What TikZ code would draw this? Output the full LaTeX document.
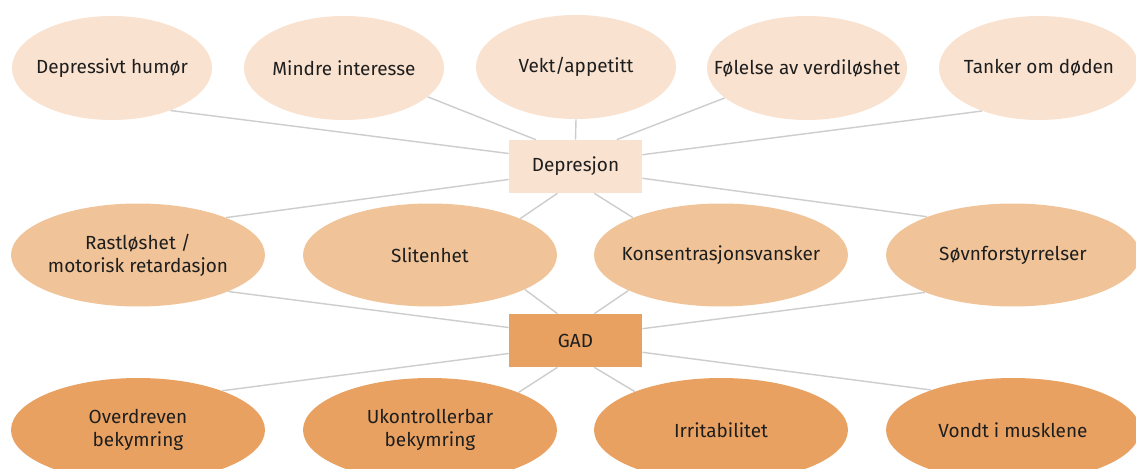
\documentclass[tikz,border=0pt]{standalone}
\usepackage{fontspec}
\setmainfont{Fira Sans}
\usetikzlibrary{shapes.geometric}

\definecolor{lysfersken}{RGB}{249,226,207}
\definecolor{fersken}{RGB}{240,196,152}
\definecolor{oransje}{RGB}{232,161,97}
\definecolor{strek}{RGB}{205,205,205}
\definecolor{tekst}{RGB}{30,30,30}

\tikzset{
  sym/.style={ellipse, inner xsep=-0.8cm, inner ysep=0pt, text=tekst, align=center,
    font=\fontsize{10.8}{13.2}\selectfont},
  toppsym/.style={sym, fill=lysfersken, minimum width=4cm, minimum height=2.08cm},
  midtsym/.style={sym, fill=fersken, minimum width=5.08cm, minimum height=2.06cm},
  bunnsym/.style={sym, fill=oransje, minimum width=5.08cm, minimum height=2.08cm},
  diagnose/.style={rectangle, inner sep=0pt, text=tekst,
    font=\fontsize{10.8}{13.2}\selectfont, minimum width=2.66cm, minimum height=1.06cm},
  link/.style={draw=strek, line width=0.8pt}
}

\begin{document}
\begin{tikzpicture}[x=0.02cm, y=-0.02cm]
\clip (0,0) rectangle (1136,469);
\fill[white] (0,0) rectangle (1136,469);
% diagnoser
\path (575.5,166.5) node (dep) [diagnose, fill=lysfersken] {Depresjon};
\path (575.5,340.5) node (gad) [diagnose, fill=oransje] {GAD};
% depresjon
\path (112,68) node (hum) [toppsym] {Depressivt humør};
\path (344,68) node (int) [toppsym] {Mindre interesse};
\path (576,67) node (vekt) [toppsym] {Vekt/appetitt};
\path (807,68) node (verdi) [toppsym] {Følelse av verdiløshet};
\path (1039,68) node (doden) [toppsym] {Tanker om døden};
% felles
\path (138,255) node (rast) [midtsym] {Rastløshet /\\motorisk retardasjon};
\path (430,255) node (sliten) [midtsym] {Slitenhet};
\path (721,255) node (kons) [midtsym] {Konsentrasjonsvansker};
\path (1013,255) node (sovn) [midtsym] {Søvnforstyrrelser};
% GAD
\path (138,430) node (overdr) [bunnsym] {Overdreven\\bekymring};
\path (430,430) node (ukontr) [bunnsym] {Ukontrollerbar\\bekymring};
\path (721,430) node (irrit) [bunnsym] {Irritabilitet};
\path (1013,430) node (musk) [bunnsym] {Vondt i musklene};
% linjer til depresjon
\draw[link] (hum.-36.6) -- (dep.169.4);
\draw[link] (int.-19.9) -- (dep.146.8);
\draw[link] (vekt.-90) -- (dep.90);
\draw[link] (verdi.-160.1) -- (dep.33.2);
\draw[link] (doden.-143.4) -- (dep.10.6);
\draw[link] (rast.23.1) -- (dep.-169.4);
\draw[link] (sliten.22.4) -- (dep.-124.9);
\draw[link] (kons.157.6) -- (dep.-55.1);
\draw[link] (sovn.156.9) -- (dep.-10.6);
% linjer til GAD
\draw[link] (rast.-22.6) -- (gad.169.4);
\draw[link] (sliten.-20.8) -- (gad.124.9);
\draw[link] (kons.-159.2) -- (gad.55.1);
\draw[link] (sovn.-157.4) -- (gad.10.6);
\draw[link] (overdr.25.2) -- (gad.-169.4);
\draw[link] (ukontr.23.5) -- (gad.-124.9);
\draw[link] (irrit.156.5) -- (gad.-55.1);
\draw[link] (musk.154.8) -- (gad.-10.6);
\end{tikzpicture}
\end{document}
